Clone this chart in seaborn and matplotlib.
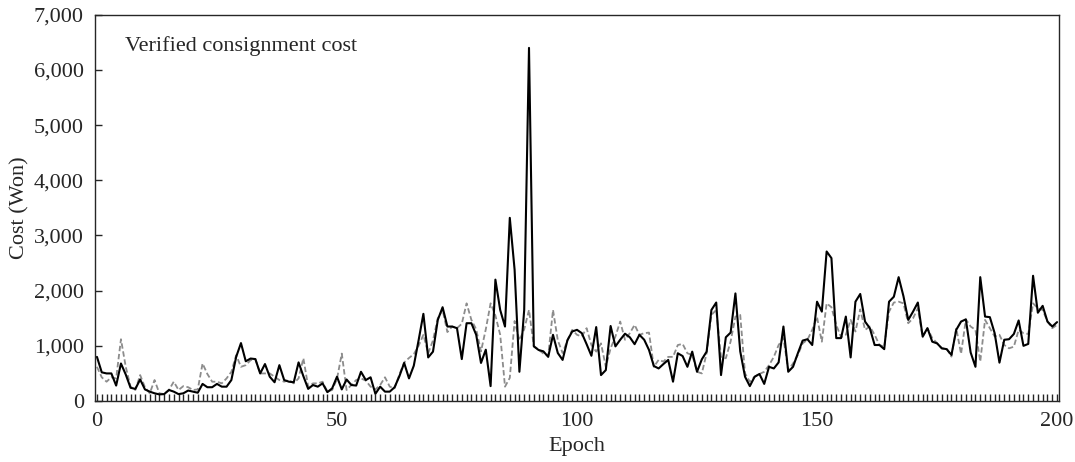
import numpy as np
import pandas as pd
import matplotlib
matplotlib.use("Agg")
import matplotlib.pyplot as plt
import matplotlib.ticker as mticker
import seaborn as sns

# values, one per epoch (0..200)
cost_actual = [
    800, 520, 500, 500, 280, 680, 480, 240, 220, 390,
    210, 170, 140, 120, 125, 200, 170, 125, 140, 190,
    170, 150, 310, 250, 250, 310, 260, 260, 380, 800,
    1050, 720, 770, 760, 500, 670, 440, 340, 650, 380,
    350, 340, 700, 450, 220, 290, 260, 320, 160, 230,
    440, 210, 390, 290, 280, 530, 380, 430, 130, 260,
    170, 170, 250, 450, 690, 410, 640, 1100, 1580, 790,
    895, 1470, 1700, 1350, 1350, 1320, 760, 1410, 1410, 1200,
    690, 930, 270, 2200, 1650, 1350, 3320, 2380, 530, 1650,
    6400, 990, 925, 900, 800, 1200, 870, 745, 1100, 1260,
    1290, 1230, 1030, 820, 1340, 470, 560, 1360, 990, 1110,
    1220, 1155, 1030, 1200, 1110, 925, 635, 590, 670, 745,
    350, 865, 815, 620, 895, 530, 755, 895, 1650, 1785,
    470, 1155, 1240, 1950, 900, 440, 270, 440, 490, 310,
    620, 590, 700, 1350, 530, 620, 865, 1095, 1120, 1015,
    1800, 1620, 2710, 2590, 1140, 1140, 1530, 790, 1800, 1940,
    1440, 1320, 1015, 1015, 940, 1800, 1890, 2245, 1900, 1470,
    1620, 1785, 1170, 1320, 1075, 1045, 955, 940, 835, 1290,
    1440, 1480, 880, 620, 2245, 1530, 1520, 1230, 695, 1110,
    1120, 1215, 1460, 1000, 1035, 2270, 1600, 1725, 1440, 1350,
    1430,
]

cost_pred = [
    620, 430, 350, 430, 410, 1120, 620, 260, 200, 470,
    250, 140, 380, 140, 125, 200, 350, 200, 270, 250,
    200, 210, 680, 490, 350, 350, 320, 410, 530, 830,
    620, 650, 740, 760, 500, 500, 500, 440, 380, 350,
    380, 320, 410, 775, 260, 320, 320, 350, 170, 200,
    400, 860, 200, 290, 380, 410, 370, 260, 210, 290,
    430, 260, 230, 480, 700, 780, 850, 1000, 1200, 865,
    1100, 1500, 1650, 1250, 1350, 1320, 1400, 1770, 1470, 1300,
    900, 1300, 1770, 1550, 1200, 260, 420, 1450, 1100, 1300,
    1650, 1000, 930, 860, 820, 1650, 1100, 870, 1100, 1290,
    1200, 1170, 1320, 1015, 895, 1045, 620, 955, 1170, 1440,
    1110, 1230, 1380, 1200, 1230, 1240, 620, 745, 715, 800,
    800, 1015, 1035, 865, 835, 530, 500, 865, 1560, 1650,
    800, 775, 1080, 1530, 1560, 500, 350, 440, 490, 530,
    650, 800, 1015, 1140, 560, 680, 835, 1045, 1110, 1290,
    1520, 1075, 1770, 1700, 1380, 1155, 1200, 1470, 1260, 1660,
    1290, 1350, 1200, 1015, 985, 1620, 1785, 1800, 1770, 1410,
    1500, 1680, 1155, 1320, 1140, 1050, 950, 950, 805, 1320,
    855, 1480, 1350, 1290, 715, 1470, 1320, 1170, 1200, 1015,
    955, 985, 1290, 1230, 1215, 1770, 1680, 1650, 1440, 1320,
    1380,
]

epochs = np.arange(len(cost_actual))

df = pd.DataFrame({'epoch': epochs, 'actual': cost_actual, 'pred': cost_pred})

sns.set_style("ticks")
plt.rcParams['font.family'] = ['Liberation Serif', 'DejaVu Serif']

fig = plt.figure(figsize=(10.75, 4.62), dpi=100)
ax = fig.add_axes([0.0884, 0.132, 0.8967, 0.836])

sns.lineplot(data=df, x='epoch', y='pred', ax=ax, color='#8c8c8c', lw=1.3,
             linestyle=(0, (3, 1.5)))
sns.lineplot(data=df, x='epoch', y='actual', ax=ax, color='black', lw=1.5)

ax.set_xlim(-0.4, 200.4)
ax.set_ylim(0, 7000)
ax.xaxis.set_major_locator(mticker.MultipleLocator(50))
ax.xaxis.set_minor_locator(mticker.MultipleLocator(1))
ax.yaxis.set_major_locator(mticker.MultipleLocator(1000))
ax.yaxis.set_major_formatter(mticker.StrMethodFormatter('{x:,.0f}'))
ax.tick_params(axis='both', which='both', direction='in', labelsize=16)
ax.tick_params(axis='both', which='major', length=5, width=1, pad=8)
ax.tick_params(axis='x', which='minor', length=5, width=1)
for s in ax.spines.values():
    s.set_visible(True)
    s.set_linewidth(1.0)

ax.set_xlabel('Epoch', fontsize=16, labelpad=4)
ax.set_ylabel('Cost (Won)', fontsize=16, labelpad=3)
ax.text(0.031, 0.945, 'Verified consignment cost', transform=ax.transAxes,
        fontsize=16, va='top', ha='left')

fig.savefig('out.png', dpi=100)
